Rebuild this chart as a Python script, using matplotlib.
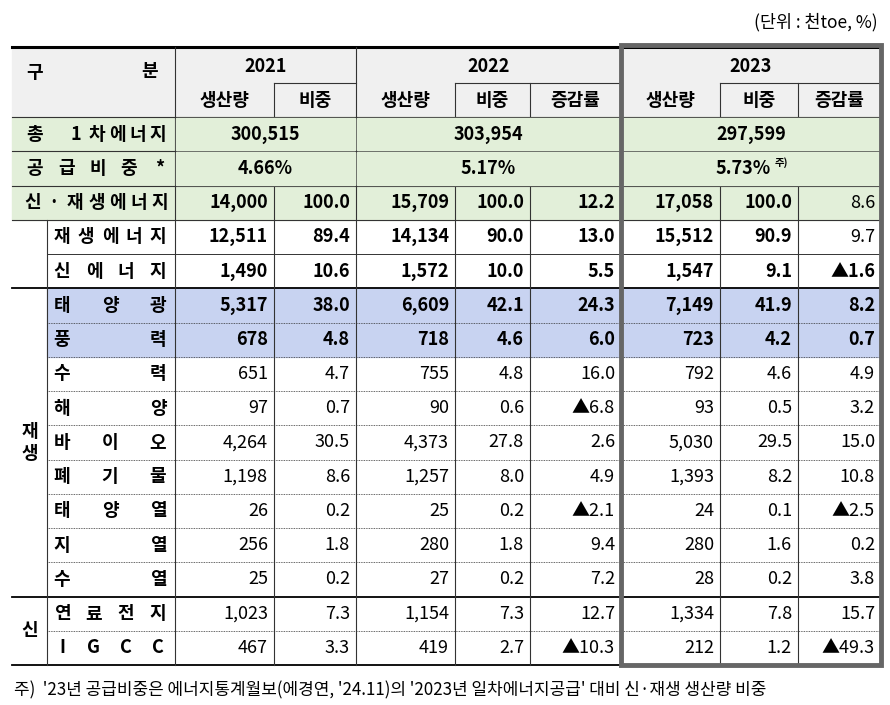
import matplotlib
matplotlib.use("Agg")
import matplotlib.pyplot as plt

plt.rcParams["font.family"] = ["Noto Sans CJK KR", "Noto Sans CJK JP", "Noto Sans CJK SC", "DejaVu Sans"]

years = ["2021", "2022", "2023"]
sub_headers = ["생산량", "비중", "생산량", "비중", "증감률", "생산량", "비중", "증감률"]
total_primary = ["300,515", "303,954", "297,599"]
supply_share = ["4.66%", "5.17%", "5.73%"]
row_names = ["신·재생에너지", "재생에너지", "신에너지", "태양광", "풍력", "수력", "해양", "바이오",
             "폐기물", "태양열", "지열", "수열", "연료전지", "IGCC"]
prod_2021 = ["14,000", "12,511", "1,490", "5,317", "678", "651", "97", "4,264", "1,198", "26", "256", "25", "1,023", "467"]
share_2021 = ["100.0", "89.4", "10.6", "38.0", "4.8", "4.7", "0.7", "30.5", "8.6", "0.2", "1.8", "0.2", "7.3", "3.3"]
prod_2022 = ["15,709", "14,134", "1,572", "6,609", "718", "755", "90", "4,373", "1,257", "25", "280", "27", "1,154", "419"]
share_2022 = ["100.0", "90.0", "10.0", "42.1", "4.6", "4.8", "0.6", "27.8", "8.0", "0.2", "1.8", "0.2", "7.3", "2.7"]
chg_2022 = ["12.2", "13.0", "5.5", "24.3", "6.0", "16.0", "▲6.8", "2.6", "4.9", "▲2.1", "9.4", "7.2", "12.7", "▲10.3"]
prod_2023 = ["17,058", "15,512", "1,547", "7,149", "723", "792", "93", "5,030", "1,393", "24", "280", "28", "1,334", "212"]
share_2023 = ["100.0", "90.9", "9.1", "41.9", "4.2", "4.6", "0.5", "29.5", "8.2", "0.1", "1.6", "0.2", "7.8", "1.2"]
chg_2023 = ["8.6", "9.7", "▲1.6", "8.2", "0.7", "4.9", "3.2", "15.0", "10.8", "▲2.5", "0.2", "3.8", "15.7", "▲49.3"]

fig = plt.figure(figsize=(8.9, 7.05), dpi=100)
ax = fig.add_axes([0, 0, 1, 1])
ax.set_xlim(0, 890); ax.set_ylim(705, 0); ax.axis("off")

L, G, N, R = 12, 47, 175, 881
cols = [175, 274, 356, 455, 530, 621, 720, 798, 881]
yt, ym, yh = 47, 83, 117
NR = 16
rh = (665 - yh) / NR
rows_y = [yh + i * rh for i in range(NR + 1)]
FS = 13

GREEN = "#e2efd9"; BLUE = "#c8d3f1"; GRAY = "#f0f0f0"
ax.add_patch(plt.Rectangle((L, yt), R - L, yh - yt, color=GRAY, zorder=0))
ax.add_patch(plt.Rectangle((L, rows_y[0]), R - L, rows_y[3] - rows_y[0], color=GREEN, zorder=0))
ax.add_patch(plt.Rectangle((G, rows_y[5]), R - G, rows_y[7] - rows_y[5], color=BLUE, zorder=0))

def hl(y, x0, x1, lw=0.8, ls="-", c="#333333"):
    ax.plot([x0, x1], [y, y], color=c, lw=lw, ls=ls, zorder=2)

def vl(x, y0, y1, lw=0.8, c="#333333"):
    ax.plot([x, x], [y0, y1], color=c, lw=lw, zorder=2)

hl(yt, L, R, lw=2.2, c="black")
hl(ym, cols[1], cols[2]); hl(ym, cols[3], cols[5]); hl(ym, cols[6], cols[8])
hl(yh, L, R)
for i in range(1, NR):
    y = rows_y[i]
    if i in (1, 2, 3):
        hl(y, L, R)
    elif i in (5, 14):
        hl(y, L, R, lw=1.3, c="black")
    elif i == 4:
        hl(y, G, R, lw=0.7)
    else:
        hl(y, G, R, lw=0.6, ls=(0, (1, 1)))
hl(rows_y[NR], L, cols[5], lw=1.3, c="black")
vl(N, yt, rows_y[NR])
vl(G, rows_y[3], rows_y[NR])
vl(cols[2], yt, rows_y[NR])
vl(cols[5], yt, rows_y[NR])
for c in (cols[1], cols[3], cols[4], cols[6], cols[7]):
    vl(c, ym, rows_y[NR])
for i in (0, 1):
    for x0, x1 in [(cols[0], cols[2]), (cols[2], cols[5]), (cols[5], cols[8])]:
        ax.add_patch(plt.Rectangle((x0 + 1, rows_y[i] + 1), x1 - x0 - 2, rh - 2, color=GREEN, zorder=3))
ax.add_patch(plt.Rectangle((cols[5], yt - 2), R - cols[5], rows_y[NR] - yt + 2, fill=False,
                           ec="#666666", lw=3.5, zorder=5))

def spread(text, x0, x1, yc, bold=True):
    chars = list(text)
    n = len(chars)
    for k, ch in enumerate(chars):
        x = x0 + (x1 - x0) * k / (n - 1) if n > 1 else (x0 + x1) / 2
        ax.text(x, yc, ch, ha="center", va="center", fontsize=FS, weight="bold" if bold else "normal", zorder=6)

def ctext(x, y, s, bold=True, ha="center", fs=FS):
    ax.text(x, y, s, ha=ha, va="center", fontsize=fs, weight="bold" if bold else "normal", zorder=6)

spread("구분", 35, 150, (yt + yh) / 2 - 10)
ctext((cols[0] + cols[2]) / 2, (yt + ym) / 2 + 2, years[0])
ctext((cols[2] + cols[5]) / 2, (yt + ym) / 2 + 2, years[1])
ctext((cols[5] + cols[8]) / 2, (yt + ym) / 2 + 2, years[2])
for j, s in enumerate(sub_headers):
    ctext((cols[j] + cols[j + 1]) / 2, (ym + yh) / 2, s)

def rc(i):
    return rows_y[i] + rh / 2

spread("총 1차에너지", 35, 158, rc(0))
spread("공급비중*", 35, 160, rc(1))
for j, (a, b) in enumerate([(0, 2), (2, 5), (5, 8)]):
    ctext((cols[a] + cols[b]) / 2, rc(0), total_primary[j])
    ctext((cols[a] + cols[b]) / 2 - (8 if j == 2 else 0), rc(1), supply_share[j])
ax.text((cols[5] + cols[8]) / 2 + 24, rc(1) - 6, "주)", fontsize=7.5, weight="bold", ha="left", va="center", zorder=6)

data = [prod_2021, share_2021, prod_2022, share_2022, chg_2022, prod_2023, share_2023, chg_2023]
for r, name in enumerate(row_names):
    i = r + 2
    bold_row = r < 5
    if r == 0:
        spread(name, 33, 160, rc(i))
    else:
        spread(name, 62, 158, rc(i))
    for j, col in enumerate(data):
        b = bold_row
        if j == 7 and r in (0, 1):
            b = False
        ctext(cols[j + 1] - 6, rc(i), col[r], bold=b, ha="right")

ctext(30, (rows_y[5] + rows_y[14]) / 2, "재\n생", fs=FS)
ctext(30, (rows_y[14] + rows_y[16]) / 2, "신", fs=FS)

ax.text(878, 22, "(단위 : 천toe, %)", ha="right", va="center", fontsize=12.5, zorder=6)
ax.text(14, 690, "주)  '23년 공급비중은 에너지통계월보(에경연, '24.11)의 '2023년 일차에너지공급' 대비 신·재생 생산량 비중",
        ha="left", va="center", fontsize=12.2, zorder=6)

fig.savefig("out.png", dpi=100)
